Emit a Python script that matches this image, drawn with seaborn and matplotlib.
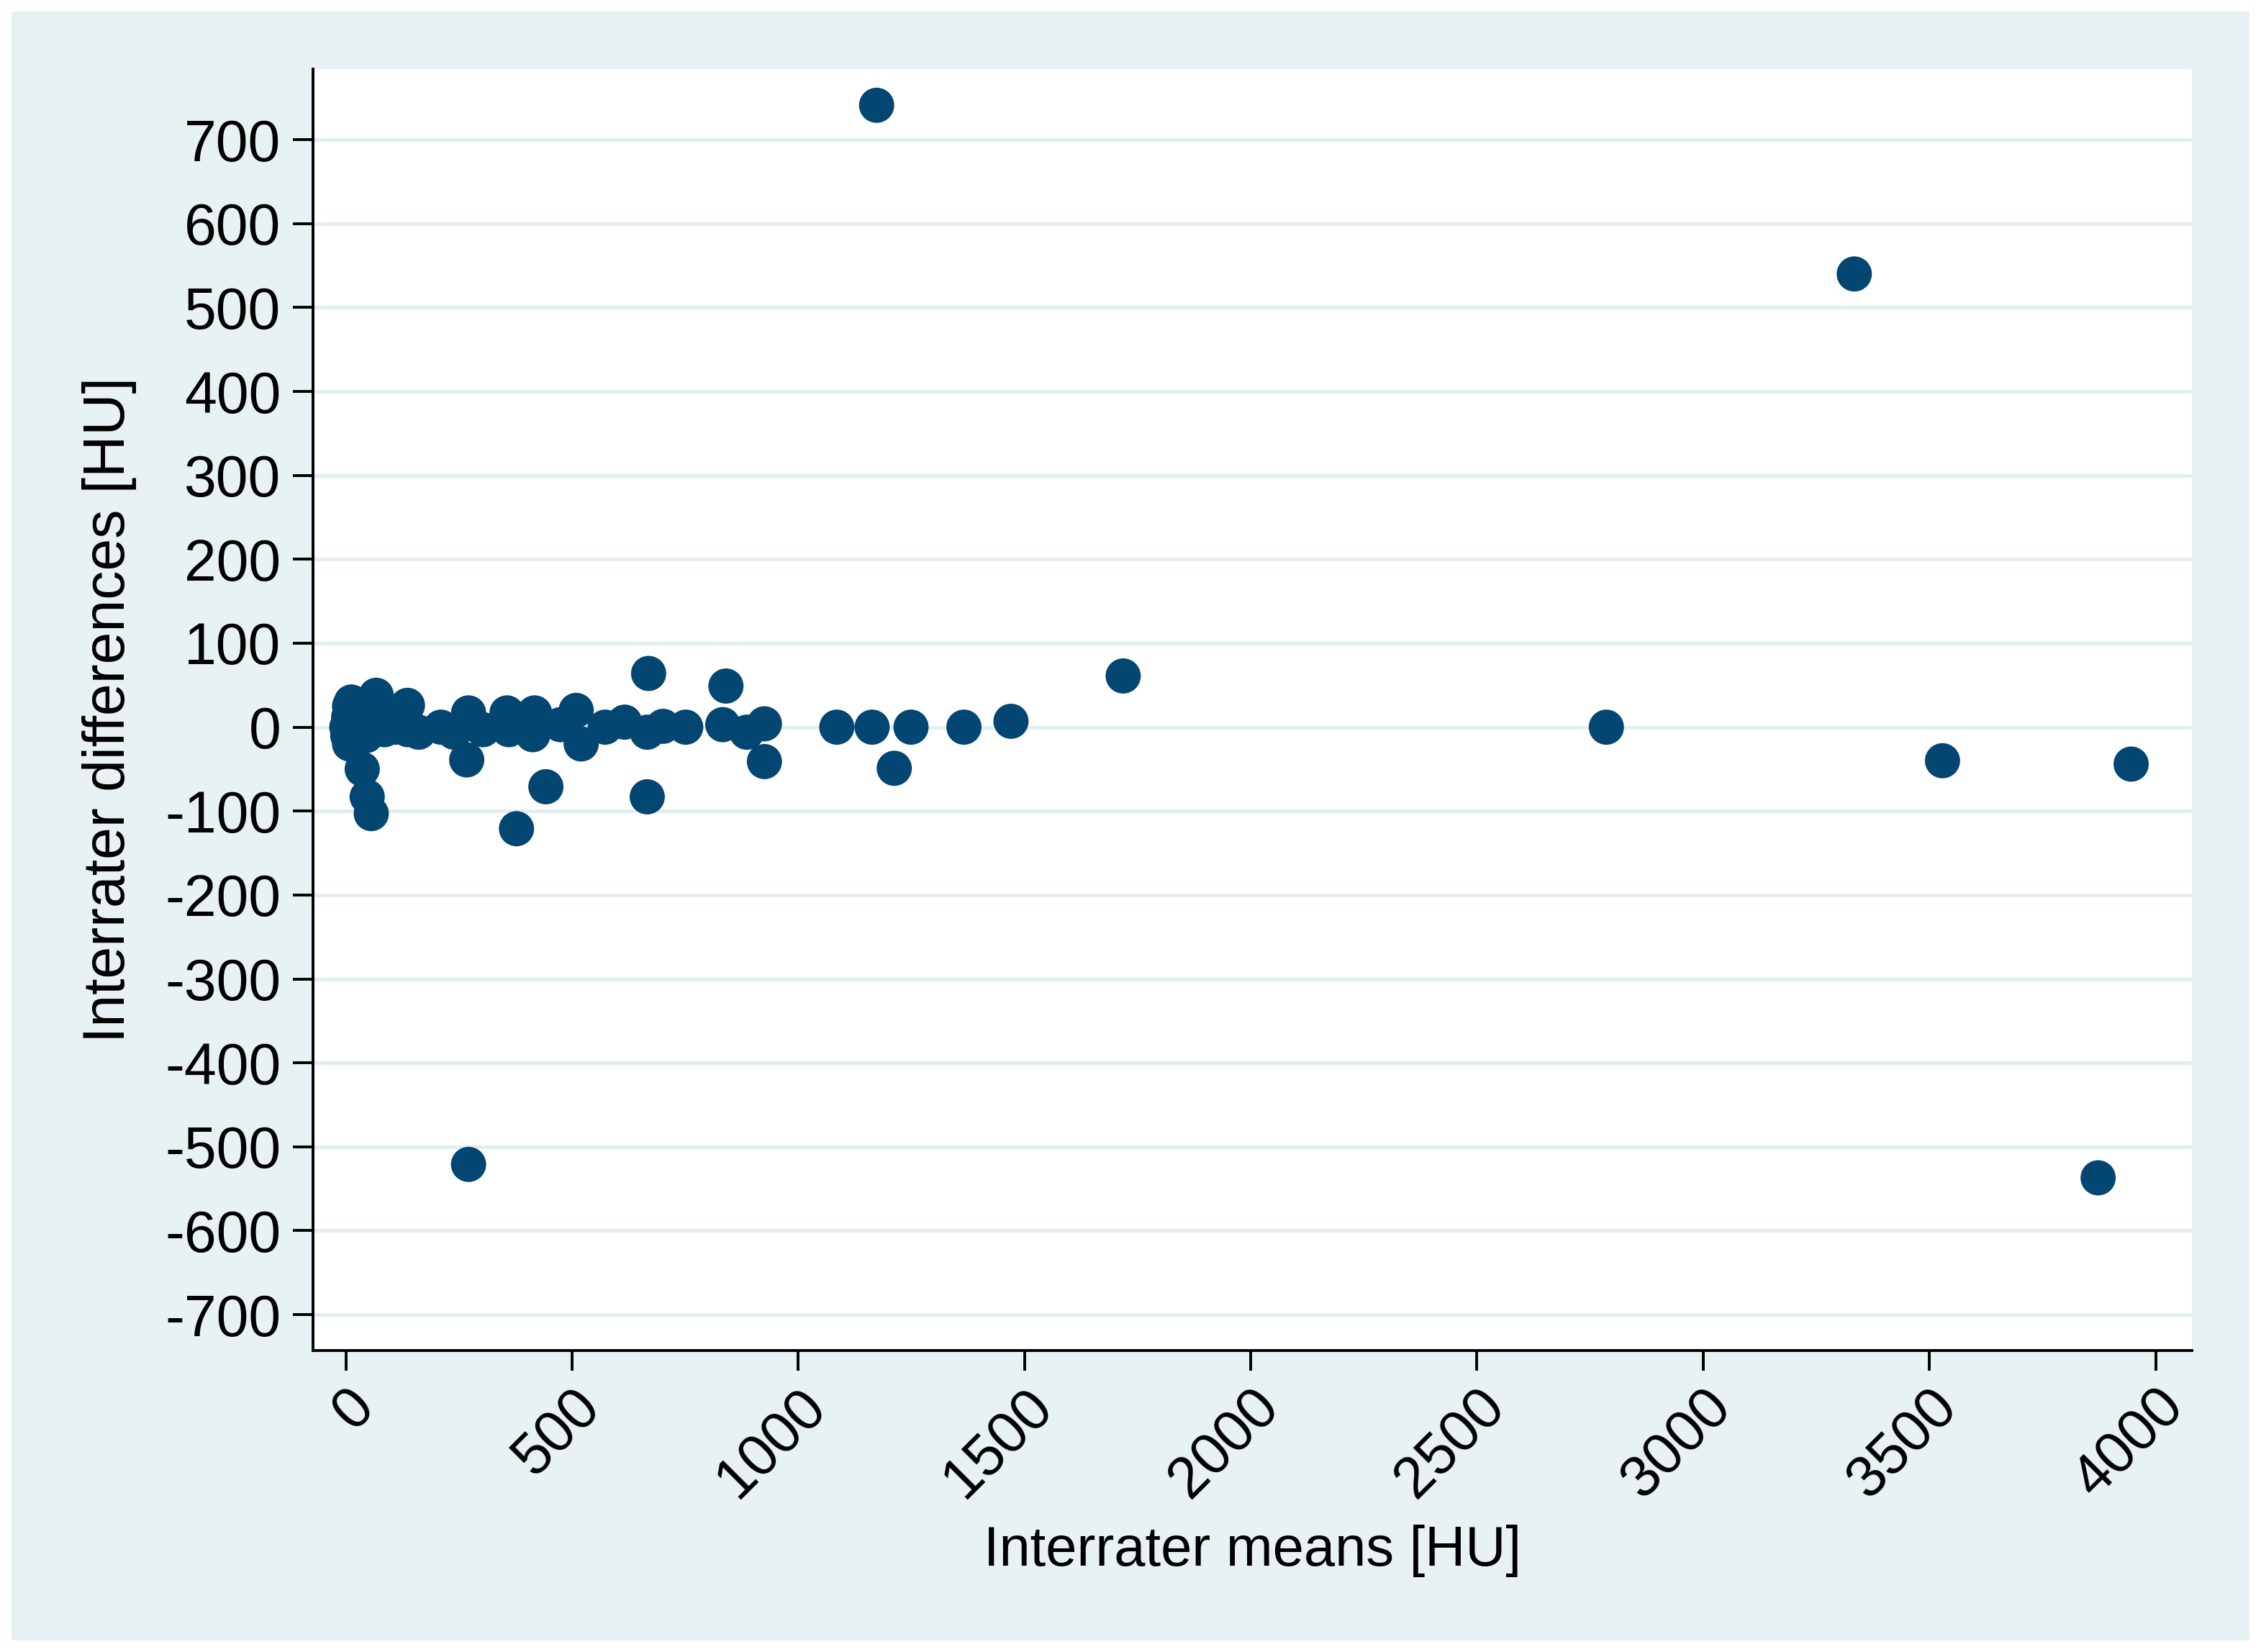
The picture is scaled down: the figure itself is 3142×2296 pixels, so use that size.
import pandas as pd
import matplotlib
matplotlib.use("Agg")
import matplotlib.pyplot as plt
from matplotlib.patches import Rectangle
import seaborn as sns

# values (HU)
means = [2, 4, 6, 8, 8, 10, 12, 14, 16, 18, 20, 22, 25, 28, 30, 35, 36, 40, 45, 47,
         50, 55, 56, 60, 67, 75, 85, 100, 110, 125, 136, 137, 161, 210, 239, 267, 271,
         271, 303, 356, 360, 377, 413, 417, 442, 474, 509, 520, 573, 616, 666, 669,
         666, 701, 751, 833, 840, 886, 925, 925, 1085, 1163, 1173, 1212, 1249, 1366,
         1470, 1718, 2786, 3334, 3529, 3873, 3946]
diffs = [0, -10, 12, 25, -20, 5, 30, -8, 18, 10, -15, 22, 0, 15, -5, 8, -50, 12, -10, -83,
         5, 15, -103, 20, 38, 5, -3, 8, 0, 12, 26, -3, -6, 0, -6, -39, 17,
         -521, -3, 17, -3, -121, -9, 17, -71, 3, 20, -20, 0, 6, -6, 64,
         -83, 1, 0, 3, 49, -6, 4, -41, 0, 0, 741, -49, 0, 0,
         7, 61, 0, 540, -40, -537, -44]

df = pd.DataFrame({"mean": means, "diff": diffs})

y_ticks = list(range(-700, 800, 100))
x_ticks = list(range(0, 4500, 500))

sns.set_style("white")
plt.rcParams["font.family"] = ["Liberation Sans", "DejaVu Sans"]
plt.rcParams["axes.unicode_minus"] = False

bg = "#e8f1f3"
fig = plt.figure(figsize=(15.71, 11.48), dpi=200, facecolor="white")
fig.patches.append(Rectangle((8 / 1568, 8 / 1146), 1552 / 1568, 1130 / 1146,
                             transform=fig.transFigure, facecolor=bg,
                             edgecolor="none", zorder=-10))
ax = fig.add_axes([217 / 1568, 1 - 937 / 1146, 1303 / 1568, 889 / 1146])
ax.set_facecolor("white")

sns.scatterplot(data=df, x="mean", y="diff", ax=ax, s=310, color="#034672",
                edgecolor="none", linewidth=0, zorder=3)

ax.set_xlim(-73, 4080)
ax.set_ylim(-743, 784)
ax.set_yticks(y_ticks)
ax.set_xticks(x_ticks)
ax.set_yticklabels([str(t) for t in y_ticks])
ax.set_xticklabels([str(t) for t in x_ticks], rotation=45, ha="right", va="top",
                   rotation_mode="anchor")
ax.grid(axis="y", color="#e3eef0", linewidth=1.8, zorder=0)
ax.grid(axis="x", visible=False)
ax.set_axisbelow(True)

for side in ["top", "right"]:
    ax.spines[side].set_visible(False)
for side in ["left", "bottom"]:
    ax.spines[side].set_color("black")
    ax.spines[side].set_linewidth(1.4)

ax.tick_params(axis="both", direction="out", length=10, width=1.4, color="black",
               labelcolor="black", labelsize=29, pad=6, left=True, bottom=True)
ax.tick_params(axis="x", pad=4)

ax.set_xlabel("Interrater means [HU]", fontsize=28, labelpad=8, color="black")
ax.set_ylabel("Interrater differences [HU]", fontsize=29, labelpad=14, color="black")

fig.savefig("out.png", dpi=200, facecolor="white")
